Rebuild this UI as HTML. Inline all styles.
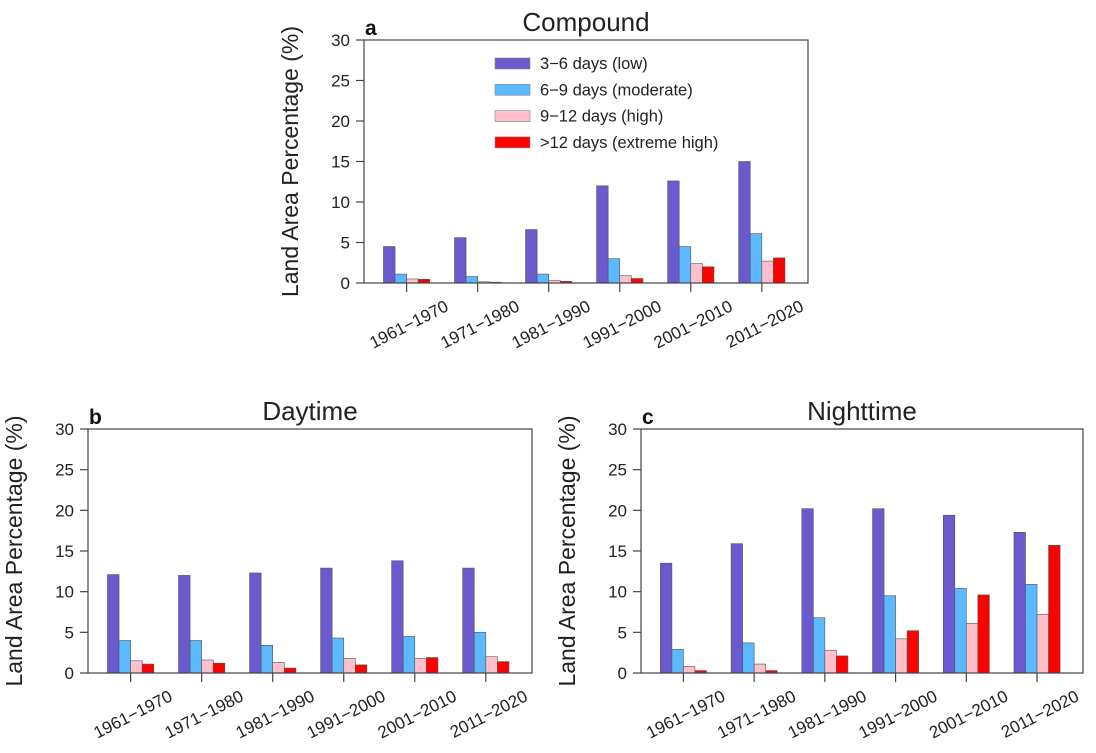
<!DOCTYPE html>
<html><head><meta charset="utf-8"><style>
html,body{margin:0;padding:0;background:#fff;}
svg{display:block;font-family:"Liberation Sans",Arial,sans-serif;}
</style></head><body>
<svg id="chart" width="1096" height="753" viewBox="0 0 1096 753" xmlns="http://www.w3.org/2000/svg"></svg>
<script>
const categories = ["1961\u22121970","1971\u22121980","1981\u22121990","1991\u22122000","2001\u22122010","2011\u22122020"];
const seriesNames = ["3\u22126 days (low)","6\u22129 days (moderate)","9\u221212 days (high)",">12 days (extreme high)"];
const yTicks = [0,5,10,15,20,25,30];
const compoundLow = [4.5,5.6,6.6,12.0,12.6,15.0];
const compoundModerate = [1.1,0.8,1.1,3.0,4.5,6.1];
const compoundHigh = [0.5,0.15,0.3,0.9,2.4,2.7];
const compoundExtreme = [0.45,0.1,0.2,0.55,2.0,3.1];
const dayLow = [12.1,12.0,12.3,12.9,13.8,12.9];
const dayModerate = [4.0,4.0,3.4,4.3,4.5,5.0];
const dayHigh = [1.5,1.6,1.3,1.8,1.8,2.0];
const dayExtreme = [1.1,1.2,0.6,1.0,1.9,1.4];
const nightLow = [13.5,15.9,20.2,20.2,19.4,17.3];
const nightModerate = [2.9,3.7,6.8,9.5,10.4,10.9];
const nightHigh = [0.8,1.1,2.8,4.2,6.1,7.2];
const nightExtreme = [0.3,0.3,2.1,5.2,9.6,15.7];

const colors = ["#6a5acd","#5cb8ff","#ffc0cb","#ff0000"];
const NS = "http://www.w3.org/2000/svg";
const svg = document.getElementById("chart");
function mk(tag, attrs, parent){const e=document.createElementNS(NS,tag);for(const k in attrs)e.setAttribute(k,attrs[k]);(parent||svg).appendChild(e);return e;}

function panel(key, letter, title, L, R, T, B, yLabelX, series, legend){
  const g = mk("g",{});
  
  
  const ymax = 30;
  const y = v => B - (v/ymax)*(B-T);
  const step = (R-L)/6.25;
  const x = i => L + step*0.6 + i*step;
  const bw = step*0.163;
  series.forEach((arr, s) => {
    arr.forEach((v, i) => {
      const r = mk("rect",{x:x(i)-2*bw+s*bw, y:y(v), width:bw, height:B-y(v), fill:colors[s], stroke:"#555","stroke-width":0.6}, g);
      
      
    });
  });
  const fr = mk("rect",{x:L,y:T,width:R-L,height:B-T,fill:"none",stroke:"#444","stroke-width":1.2}, g);
  
  
  yTicks.forEach(t => {
    mk("line",{x1:L-8,x2:L,y1:y(t),y2:y(t),stroke:"#444","stroke-width":1.2}, g);
    const tx = mk("text",{x:L-14,y:y(t)+6,"text-anchor":"end","font-size":17,fill:"#222"}, g);
    tx.textContent = t;
    
    
  });
  categories.forEach((c, i) => {
    mk("line",{x1:x(i),x2:x(i),y1:B,y2:B+9,stroke:"#444","stroke-width":1.2}, g);
    const ax = x(i)+43, ay = B+27;
    const tx = mk("text",{x:ax,y:ay,"text-anchor":"end","font-size":17,fill:"#222",transform:"rotate(-27 "+ax+" "+ay+")"}, g);
    tx.textContent = c;
    
    
  });
  const cy = (T+B)/2;
  const yl = mk("text",{x:yLabelX,y:cy,"text-anchor":"middle","font-size":23,fill:"#222",transform:"rotate(-90 "+yLabelX+" "+cy+")"}, g);
  yl.textContent = "Land Area Percentage (%)";
  
  
  const tt = mk("text",{x:(L+R)/2,y:T-9,"text-anchor":"middle","font-size":26,fill:"#222"}, g);
  tt.textContent = title;
  
  
  const lt = mk("text",{x:L+1,y:T-5,"font-size":21,"font-weight":"bold",fill:"#111"}, g);
  lt.textContent = letter;
  
  
  if (legend){
    seriesNames.forEach((n, s) => {
      const ly = 58 + s*26.3;
      const lr = mk("rect",{x:495,y:ly,width:35,height:11,fill:colors[s],stroke:"#888","stroke-width":0.6}, g);
      
      
      const lx = mk("text",{x:540,y:ly+11,"font-size":16.5,fill:"#222"}, g);
      lx.textContent = n;
      
      
    });
  }
}
panel("compound","a","Compound",364,808,40,283,298,[compoundLow,compoundModerate,compoundHigh,compoundExtreme],true);
panel("daytime","b","Daytime",88,532,429,673,22,[dayLow,dayModerate,dayHigh,dayExtreme],false);
panel("nighttime","c","Nighttime",641,1083,429,673,575,[nightLow,nightModerate,nightHigh,nightExtreme],false);
</script>
</body></html>
